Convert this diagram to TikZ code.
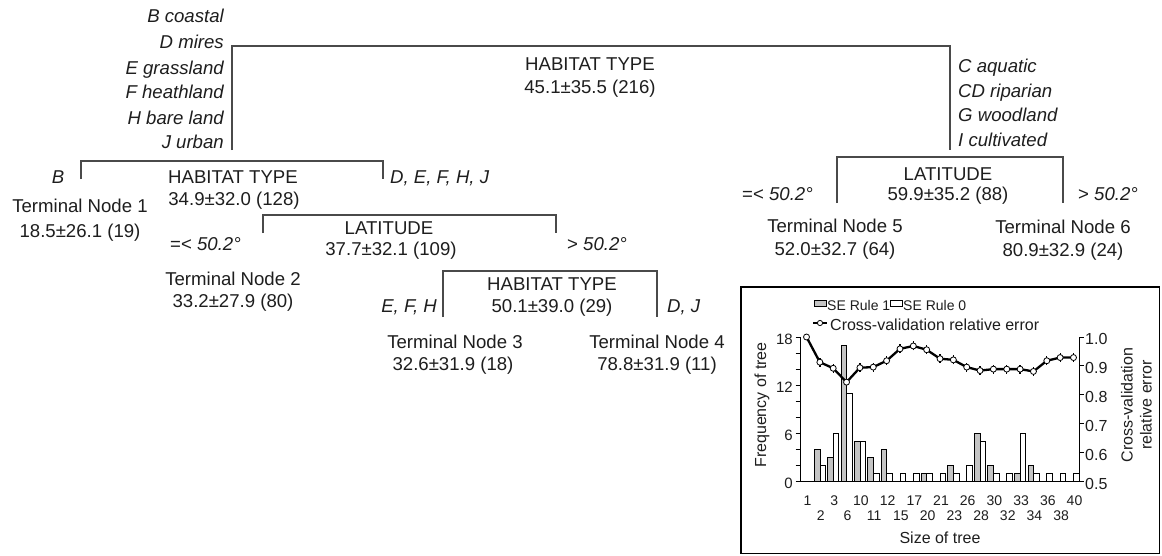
\documentclass[tikz,border=0pt]{standalone}
\usepackage{fontspec}
\setmainfont{Liberation Sans}
\definecolor{txt}{HTML}{1E1E1E}
\definecolor{ln}{HTML}{4A4A4A}
\definecolor{bargrey}{HTML}{C4C4C4}
\begin{document}
\begin{tikzpicture}[x=1pt,y=-1pt,
  lab/.style={font=\fontsize{18.6}{22}\selectfont, text=txt, inner sep=0pt, anchor=base},
  labi/.style={lab, font=\fontsize{18.6}{22}\selectfont\itshape},
  brk/.style={draw=ln, line width=1.1pt},
  cfa/.style={font=\fontsize{14}{16}\selectfont, text=txt, inner sep=0pt},
  cfb/.style={font=\fontsize{15}{17}\selectfont, text=txt, inner sep=0pt},
  cfc/.style={font=\fontsize{16}{18}\selectfont, text=txt, inner sep=0pt},
  gbar/.style={draw=black, line width=0.7pt, fill=bargrey},
  wbar/.style={draw=black, line width=0.7pt, fill=white},
  ax/.style={draw=black, line width=0.9pt},
  eline/.style={draw=black, line width=2.3pt, line join=round},
  mk/.style={draw=black, line width=0.8pt, fill=white},
  frame/.style={draw=black, line width=1.2pt}]
\useasboundingbox (0,0) rectangle (1162,555);
\fill[white] (0,0) rectangle (1162,555);

% ---------------- tree ----------------
% root
\node[lab] (rootA) at (590,70) {HABITAT TYPE};
\node[lab] (rootB) at (590,93) {45.1±35.5 (216)};
\foreach \t/\y [count=\k] in {B coastal/22.5, D mires/48, E grassland/74, F heathland/98, H bare land/124, J urban/148}
  \node[labi, anchor=base east] (L\k) at (224,\y) {\t};
\foreach \t/\y [count=\k] in {C aquatic/72, CD riparian/97, G woodland/121.5, I cultivated/146.5}
  \node[labi, anchor=base west] (R\k) at (958,\y) {\t};
\coordinate (r1) at (232,150); \coordinate (r2) at (232,46);
\coordinate (r3) at (950,46);  \coordinate (r4) at (950,150);
\draw[brk] (r1) -- (r2) -- (r3) -- (r4);

% habitat type (128)
\node[lab] (hA) at (233,183) {HABITAT TYPE};
\node[lab] (hB) at (234,205) {34.9±32.0 (128)};
\node[labi] (hL) at (58,183) {B};
\node[labi, anchor=base west] (hR) at (390,183) {D, E, F, H, J};
\coordinate (h1) at (81,179); \coordinate (h2) at (81,161);
\coordinate (h3) at (383,161); \coordinate (h4) at (383,179);
\draw[brk] (h1) -- (h2) -- (h3) -- (h4);

% terminal node 1
\node[lab] (t1A) at (80,212) {Terminal Node 1};
\node[lab] (t1B) at (80,237) {18.5±26.1 (19)};

% latitude (109)
\node[lab] (aA) at (389,234) {LATITUDE};
\node[lab] (aB) at (391,255) {37.7±32.1 (109)};
\node[lab, anchor=base west] (aL) at (170,250) {=< \textit{50.2°}};
\node[lab, anchor=base west] (aR) at (567,250) {> \textit{50.2°}};
\coordinate (a1) at (263,233); \coordinate (a2) at (263,215);
\coordinate (a3) at (556,215); \coordinate (a4) at (556,233);
\draw[brk] (a1) -- (a2) -- (a3) -- (a4);

% terminal node 2
\node[lab] (t2A) at (233,285) {Terminal Node 2};
\node[lab] (t2B) at (233,307) {33.2±27.9 (80)};

% habitat type (29)
\node[lab] (bA) at (552,290.5) {HABITAT TYPE};
\node[lab] (bB) at (552,312) {50.1±39.0 (29)};
\node[labi, anchor=base east] (bL) at (437,312) {E, F, H};
\node[labi, anchor=base west] (bR) at (667,312) {D, J};
\coordinate (b1) at (443,317); \coordinate (b2) at (443,271);
\coordinate (b3) at (657,271); \coordinate (b4) at (657,317);
\draw[brk] (b1) -- (b2) -- (b3) -- (b4);

% terminal nodes 3, 4
\node[lab] (t3A) at (455,348) {Terminal Node 3};
\node[lab] (t3B) at (453,370) {32.6±31.9 (18)};
\node[lab] (t4A) at (657,348) {Terminal Node 4};
\node[lab] (t4B) at (657,370) {78.8±31.9 (11)};

% latitude (88)
\node[lab] (cA) at (948,180) {LATITUDE};
\node[lab] (cB) at (948,200) {59.9±35.2 (88)};
\node[lab, anchor=base west] (cL) at (742,200) {=< \textit{50.2°}};
\node[lab, anchor=base west] (cR) at (1078,200) {> \textit{50.2°}};
\coordinate (c1) at (837,203); \coordinate (c2) at (837,157);
\coordinate (c3) at (1063,157); \coordinate (c4) at (1063,203);
\draw[brk] (c1) -- (c2) -- (c3) -- (c4);

% terminal nodes 5, 6
\node[lab] (t5A) at (835,232) {Terminal Node 5};
\node[lab] (t5B) at (835,255) {52.0±32.7 (64)};
\node[lab] (t6A) at (1063,233.5) {Terminal Node 6};
\node[lab] (t6B) at (1063,256.5) {80.9±32.9 (24)};

% ---------------- inset chart ----------------
\draw[frame] (741,287) rectangle (1159.5,553.5);

% bars
\foreach \i/\g/\w in {1/4/2,2/3/6,3/17/11,4/5/5,5/3/1,6/4/1,7/0/1,8/0/1,9/1/1,10/0/1,11/2/1,12/0/2,13/6/5,14/2/1,15/0/1,16/1/6,17/2/1,18/0/1,19/0/1,20/0/1}{
  \pgfmathsetmacro\xc{806.5+13.35*\i}
  \ifnum\g>0 \draw[gbar] ({\xc-5.6},481.7) rectangle (\xc,{481.7-8.03*\g});\fi
  \ifnum\w>0 \draw[wbar] (\xc,481.7) rectangle ({\xc+5.6},{481.7-8.03*\w});\fi
}

% axes
\draw[ax] (800,337) -- (800,481.7) -- (1079,481.7) -- (1079,337);
\foreach \k in {0,2,...,18}
  \draw[ax] (795.5,{481.7-8.03*\k}) -- (800,{481.7-8.03*\k});
\foreach \k in {0,6,12,18}
  \node[cfb, anchor=east] (yl\k) at (793,{483.5-8.03*\k}) {\k};
\foreach \k/\t in {0/0.5,1/0.6,2/0.7,3/0.8,4/0.9,5/1.0}{
  \draw[ax] (1079,{481.7-28.94*\k}) -- (1083.5,{481.7-28.94*\k});
  \node[cfc, anchor=west] (yr\k) at (1085,{483.5-28.94*\k}) {\t};
}
\foreach \t [count=\k from 0] in {1,2,3,6,10,11,12,15,17,20,21,23,26,28,30,32,33,34,36,38,40}{
  \pgfmathsetmacro\xc{807.5+13.35*\k}
  \ifodd\k
    \node[cfa, anchor=base] (xl\k) at (\xc,520) {\t};
  \else
    \node[cfa, anchor=base] (xl\k) at (\xc,505) {\t};
  \fi
}

% cross-validation error line
\foreach \e [count=\k from 0] in {1.0,0.913,0.892,0.844,0.894,0.896,0.918,0.959,0.969,0.956,0.925,0.921,0.896,0.884,0.889,0.889,0.889,0.881,0.918,0.929,0.929}
  \coordinate (e\k) at ({806.5+13.35*\k},{481.7-289.4*(\e-0.5)});
\draw[eline] (e0) \foreach \k in {1,...,20}{ -- (e\k)};
\foreach \k in {1,...,20}
  \draw[line width=1.3pt] ([yshift=-4.5pt]e\k) -- ([yshift=4.5pt]e\k);
\foreach \k in {0,...,20}
  \draw[mk] (e\k) circle[radius=3pt];

% legend
\draw[gbar] (814,300.7) rectangle (826,306.7);
\node[cfa, anchor=base west] (lg1) at (827,310) {SE Rule 1};
\draw[wbar] (890,300.7) rectangle (902,306.7);
\node[cfa, anchor=base west] (lg2) at (903,310) {SE Rule 0};
\coordinate (lgs) at (813,323); \coordinate (lge) at (827,323);
\draw[eline, line width=1.5pt] (lgs) -- (lge);
\draw[mk] (820,323) circle[radius=2.6pt];
\node[cfc, anchor=base west] (lg3) at (830,330) {Cross-validation relative error};

% axis titles
\node[cfc, rotate=90] (ytl) at (762,405) {Frequency of tree};
\node[cfc, rotate=90] (ytr1) at (1127,405) {Cross-validation};
\node[cfc, rotate=90] (ytr2) at (1146,405) {relative error};
\node[cfc, anchor=base] (xt) at (940,543) {Size of tree};
\end{tikzpicture}
\end{document}
